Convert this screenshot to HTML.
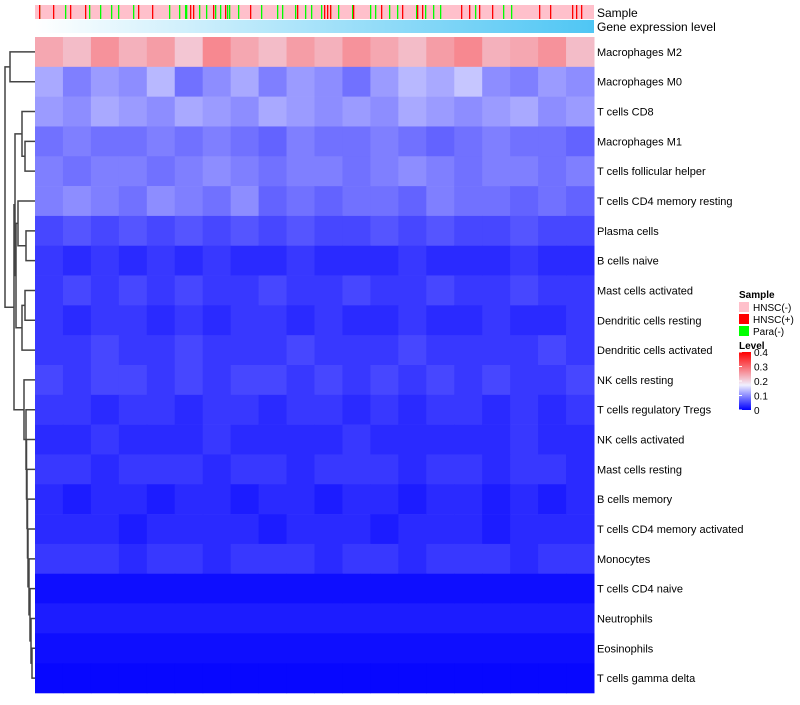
<!DOCTYPE html>
<html><head><meta charset="utf-8"><style>
body{margin:0;background:#fff;font-family:"Liberation Sans",sans-serif}
svg text{font-family:"Liberation Sans",sans-serif}
</style></head><body>
<svg id="chart" width="800" height="700" xmlns="http://www.w3.org/2000/svg">
<defs>
<linearGradient id="geneGrad" x1="0" x2="1" y1="0" y2="0"><stop offset="0" stop-color="#ffffff"/><stop offset="1" stop-color="#4fc6f4"/></linearGradient>
<linearGradient id="levelGrad" x1="0" x2="0" y1="1" y2="0"><stop offset="0" stop-color="#0000ff"/><stop offset="0.43" stop-color="#f0f0ff"/><stop offset="1" stop-color="#ff0000"/></linearGradient>
</defs>
<g id="dendro"></g>
<g id="annot"></g>
<rect x="35" y="20" width="559" height="13" fill="url(#geneGrad)"/>
<text x="597" y="17" font-size="12">Sample</text>
<text x="597" y="31" font-size="12">Gene expression level</text>
<g id="cells"></g>
<g id="labels"></g>
<g>
<text x="739" y="298" font-size="10" font-weight="bold">Sample</text>
<rect x="739" y="302" width="10" height="10" fill="#ffc0cb"/>
<text x="753" y="311" font-size="10">HNSC(-)</text>
<rect x="739" y="314" width="10" height="10" fill="#ff0000"/>
<text x="753" y="323" font-size="10">HNSC(+)</text>
<rect x="739" y="326" width="10" height="10" fill="#00ff00"/>
<text x="753" y="335" font-size="10">Para(-)</text>
<text x="739" y="349" font-size="10" font-weight="bold">Level</text>
<rect x="739" y="352" width="12" height="58" fill="url(#levelGrad)"/>
<g id="levelTicks"></g>
</g>
</svg>
<script>
const rowNames=["Macrophages M2","Macrophages M0","T cells CD8","Macrophages M1","T cells follicular helper","T cells CD4 memory resting","Plasma cells","B cells naive","Mast cells activated","Dendritic cells resting","Dendritic cells activated","NK cells resting","T cells regulatory  Tregs","NK cells activated","Mast cells resting","B cells memory","T cells CD4 memory activated","Monocytes","T cells CD4 naive","Neutrophils","Eosinophils","T cells gamma delta"];
const rowValues=[
[0.24,0.22,0.26,0.23,0.25,0.21,0.27,0.24,0.22,0.25,0.23,0.26,0.24,0.22,0.25,0.27,0.23,0.24,0.26,0.22],
[0.12,0.09,0.11,0.10,0.13,0.08,0.10,0.12,0.09,0.11,0.10,0.08,0.11,0.13,0.12,0.14,0.10,0.09,0.11,0.10],
[0.11,0.10,0.12,0.11,0.10,0.12,0.11,0.10,0.12,0.11,0.10,0.11,0.10,0.12,0.11,0.10,0.11,0.12,0.10,0.11],
[0.08,0.09,0.08,0.08,0.09,0.08,0.09,0.08,0.07,0.09,0.08,0.08,0.09,0.08,0.07,0.08,0.09,0.08,0.08,0.07],
[0.09,0.08,0.09,0.09,0.08,0.09,0.10,0.09,0.08,0.09,0.09,0.08,0.09,0.10,0.09,0.08,0.09,0.09,0.08,0.09],
[0.09,0.10,0.09,0.08,0.10,0.09,0.08,0.10,0.07,0.08,0.07,0.08,0.08,0.07,0.09,0.08,0.08,0.07,0.08,0.07],
[0.05,0.06,0.05,0.06,0.05,0.06,0.05,0.06,0.05,0.06,0.05,0.05,0.06,0.05,0.06,0.05,0.05,0.06,0.05,0.05],
[0.04,0.03,0.04,0.03,0.04,0.03,0.04,0.03,0.03,0.04,0.03,0.03,0.03,0.04,0.03,0.03,0.03,0.04,0.03,0.03],
[0.04,0.05,0.04,0.05,0.04,0.05,0.04,0.04,0.05,0.04,0.04,0.05,0.04,0.04,0.05,0.04,0.04,0.05,0.04,0.04],
[0.04,0.03,0.04,0.04,0.03,0.04,0.03,0.04,0.04,0.03,0.04,0.03,0.03,0.04,0.03,0.03,0.04,0.03,0.03,0.04],
[0.04,0.04,0.05,0.04,0.04,0.05,0.04,0.04,0.04,0.05,0.04,0.04,0.04,0.05,0.04,0.04,0.04,0.04,0.05,0.04],
[0.05,0.04,0.05,0.05,0.04,0.05,0.04,0.05,0.05,0.04,0.05,0.04,0.05,0.04,0.05,0.04,0.05,0.04,0.04,0.05],
[0.04,0.04,0.03,0.04,0.04,0.03,0.04,0.04,0.03,0.04,0.04,0.03,0.04,0.03,0.04,0.04,0.03,0.04,0.03,0.04],
[0.03,0.03,0.04,0.03,0.03,0.03,0.04,0.03,0.03,0.03,0.03,0.04,0.03,0.03,0.03,0.03,0.03,0.04,0.03,0.03],
[0.04,0.04,0.03,0.04,0.04,0.04,0.03,0.04,0.04,0.03,0.04,0.04,0.04,0.03,0.04,0.04,0.03,0.04,0.04,0.03],
[0.03,0.02,0.03,0.03,0.02,0.03,0.03,0.02,0.03,0.03,0.02,0.03,0.03,0.02,0.03,0.03,0.02,0.03,0.02,0.03],
[0.03,0.03,0.03,0.02,0.03,0.03,0.03,0.03,0.02,0.03,0.03,0.03,0.02,0.03,0.03,0.03,0.02,0.03,0.03,0.03],
[0.04,0.04,0.04,0.03,0.04,0.04,0.03,0.04,0.04,0.04,0.03,0.04,0.04,0.03,0.04,0.04,0.04,0.03,0.04,0.04],
[0.01,0.01,0.01,0.01,0.01,0.01,0.01,0.01,0.01,0.01,0.01,0.01,0.01,0.01,0.01,0.01,0.01,0.01,0.01,0.01],
[0.02,0.02,0.02,0.02,0.02,0.02,0.02,0.02,0.02,0.02,0.02,0.02,0.02,0.02,0.02,0.02,0.02,0.02,0.02,0.02],
[0.01,0.01,0.01,0.01,0.01,0.01,0.01,0.01,0.01,0.01,0.01,0.01,0.01,0.01,0.01,0.01,0.01,0.01,0.01,0.01],
[0.005,0.005,0.005,0.005,0.005,0.005,0.005,0.005,0.005,0.005,0.005,0.005,0.005,0.005,0.005,0.005,0.005,0.005,0.005,0.005]];
const nSamples=559;
const paraSamples=[4,30,54,65,76,83,98,134,144,150,151,164,171,180,185,192,194,203,226,242,247,260,270,276,286,295,303,317,335,340,354,362,381,390,398,405,440,468,476];
const hnscPosSamples=[4,18,35,50,103,117,155,158,178,190,215,262,289,292,295,318,346,367,382,387,426,434,444,457,504,515,537,541,546];
const mergeLeft=[0,3,2,6,5,8,10,26,24,20,19,18,17,16,15,14,13,12,11,30,22];
const mergeRight=[1,4,23,7,25,9,27,28,29,21,31,32,33,34,35,36,37,38,39,40,41];
const mergeHeight=[10,25,22,26,18,25,22,16,15,32,31,30,29,28,27.5,27,26.5,26,24,14,5];
const levelTicks=[0,0.1,0.2,0.3,0.4];

const NS="http://www.w3.org/2000/svg";
const X0=35,X1=594,Y0=37,Y1=693,nRows=rowNames.length,rowH=(Y1-Y0)/nRows;
const vmax=0.4,vmid=0.17;
function colorOf(v){v=Math.max(0,Math.min(vmax,v));let r,g,b;
 if(v<vmid){const t=v/vmid;r=240*t;g=240*t;b=255;}else{const t=(v-vmid)/(vmax-vmid);r=240+15*t;g=240*(1-t);b=255*(1-t);}
 return `rgb(${Math.round(r)},${Math.round(g)},${Math.round(b)})`;}
function xScale(i,n){return X0+(X1-X0)*i/n;}
function yRow(r){return Y0+r*rowH;}
function el(tag,attrs,parent){const e=document.createElementNS(NS,tag);for(const k in attrs)e.setAttribute(k,attrs[k]);parent.appendChild(e);return e;}

const cells=document.getElementById('cells');
rowValues.forEach((vals,r)=>{vals.forEach((v,c)=>{
 const rc=el('rect',{x:xScale(c,vals.length),y:yRow(r),width:(X1-X0)/vals.length+0.5,height:rowH+0.3,fill:colorOf(v)},cells);
 
 
});});
const labels=document.getElementById('labels');
rowNames.forEach((n,r)=>{
 const t=el('text',{x:597,y:yRow(r)+rowH/2+4,'font-size':11},labels);t.textContent=n;
 
 
});
const annot=document.getElementById('annot');
const bg=el('rect',{x:X0,y:5,width:X1-X0,height:14,fill:'#ffc0cb'},annot);


const sw=(X1-X0)/nSamples;
paraSamples.forEach(i=>{const m=el('rect',{x:xScale(i,nSamples),y:5,width:Math.max(sw,1.3),height:14,fill:'#00ff00'},annot);
 
 });
hnscPosSamples.forEach(i=>{const m=el('rect',{x:xScale(i,nSamples),y:5,width:Math.max(sw,1.3),height:14,fill:'#ff0000'},annot);
 
 });

const dendro=document.getElementById('dendro');
const nodeY=[],nodeX=[];
for(let r=0;r<nRows;r++){nodeY.push(yRow(r)+rowH/2);nodeX.push(X0);}
mergeLeft.forEach((a,k)=>{const b=mergeRight[k],h=mergeHeight[k];
 const p=el('path',{d:`M${nodeX[a]},${nodeY[a]}H${h}V${nodeY[b]}H${nodeX[b]}`,fill:'none',stroke:'#444',"stroke-width":1.5},dendro);
 
 
 nodeY.push((nodeY[a]+nodeY[b])/2);nodeX.push(h);});

const lt=document.getElementById('levelTicks');
levelTicks.forEach(v=>{const y=410-58*v/vmax;
 const l=el('line',{x1:739,x2:742,y1:y,y2:y,stroke:'#fff'},lt);
 
 
 const t=el('text',{x:754,y:y+4,'font-size':10},lt);t.textContent=String(v);
 
 });
</script>
</body></html>
